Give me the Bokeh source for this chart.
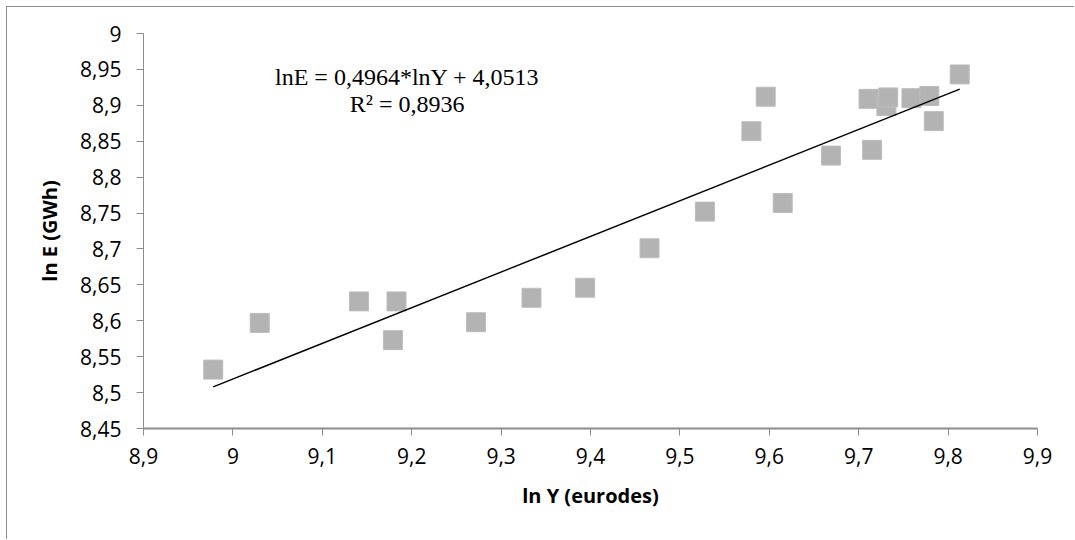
from bokeh.plotting import figure
from bokeh.models import FixedTicker, CustomJSTickFormatter, ColumnDataSource
from bokeh.core.properties import value
from bokeh.embed import file_html
from bokeh.resources import INLINE

# ---- data ----
ln_y = [8.978, 9.030, 9.141, 9.183, 9.179, 9.272, 9.334, 9.394, 9.466, 9.528,
        9.580, 9.596, 9.615, 9.669, 9.711, 9.715, 9.731, 9.733, 9.759, 9.779,
        9.784, 9.813]
ln_e = [8.532, 8.597, 8.627, 8.627, 8.573, 8.598, 8.632, 8.646, 8.701, 8.752,
        8.864, 8.912, 8.764, 8.830, 8.909, 8.838, 8.899, 8.911, 8.910, 8.913,
        8.878, 8.943]

slope = 0.4964
intercept = 4.0513
r_squared = 0.8936

x_ticks = [8.9, 9.0, 9.1, 9.2, 9.3, 9.4, 9.5, 9.6, 9.7, 9.8, 9.9]
y_ticks = [8.45, 8.5, 8.55, 8.6, 8.65, 8.7, 8.75, 8.8, 8.85, 8.9, 8.95, 9.0]

x_title = "ln Y (eurodes)"
y_title = "ln E (GWh)"

def comma(v):
    return str(v).replace(".", ",")

eq_lines = [f"lnE = {comma(slope)}*lnY + {comma(intercept)}",
            f"R\u00b2 = {comma(r_squared)}"]
eq_x = [9.195, 9.195]
eq_y = [8.939, 8.902]

trend_x = [min(ln_y), max(ln_y)]
trend_y = [slope * v + intercept for v in trend_x]

# ---- figure ----
p = figure(width=1067, height=532, output_backend="svg", toolbar_location=None,
           x_range=(8.9, 9.9), y_range=(8.45, 9.0),
           frame_width=894, frame_height=395,
           min_border_left=136, min_border_right=37,
           min_border_top=26, min_border_bottom=111)
p.styles = {"border-top": "1px solid #8c8c8c", "border-left": "1px solid #8c8c8c",
            "margin-left": "6px", "margin-top": "6px"}
p.outline_line_color = None
p.background_fill_color = "white"
p.border_fill_color = "white"
p.xgrid.visible = False
p.ygrid.visible = False

p.scatter(ln_y, ln_e, marker="square", size=19, fill_color="#b3b3b3",
          line_color="#bdbdbd", line_width=1)
p.line(trend_x, trend_y, line_color="black", line_width=1.5)

src = ColumnDataSource(dict(x=eq_x, y=eq_y, t=eq_lines))
p.text(x="x", y="y", text="t", source=src, text_font=value("Liberation Serif"),
       text_font_size="24px", text_align="center", text_baseline="middle",
       text_color="black")

fmt = CustomJSTickFormatter(code="""
let s = tick.toFixed(2).replace(/0+$/, '').replace(/\\.$/, '');
return s.replace('.', ',');
""")

for ax, ticks, title in ((p.xaxis[0], x_ticks, x_title), (p.yaxis[0], y_ticks, y_title)):
    ax.ticker = FixedTicker(ticks=ticks)
    ax.formatter = fmt
    ax.axis_label = title
    ax.axis_label_text_font = "Open Sans"
    ax.axis_label_text_font_style = "bold"
    ax.axis_label_text_font_size = "20px"
    ax.axis_label_text_color = "black"
    ax.major_label_text_font = "Open Sans"
    ax.major_label_text_font_size = "21px"
    ax.major_label_text_color = "black"
    ax.axis_line_color = "#8c8c8c"
    ax.major_tick_line_color = "#8c8c8c"
    ax.major_tick_in = 0
    ax.major_tick_out = 7
    ax.minor_tick_line_color = None

p.xaxis[0].axis_line_width = 2
p.yaxis[0].axis_line_width = 1
p.xaxis[0].major_label_standoff = 12
p.yaxis[0].major_label_standoff = 15
p.xaxis[0].axis_label_standoff = 15
p.yaxis[0].axis_label_standoff = 14

open("out.html", "w").write(file_html(p, INLINE))
